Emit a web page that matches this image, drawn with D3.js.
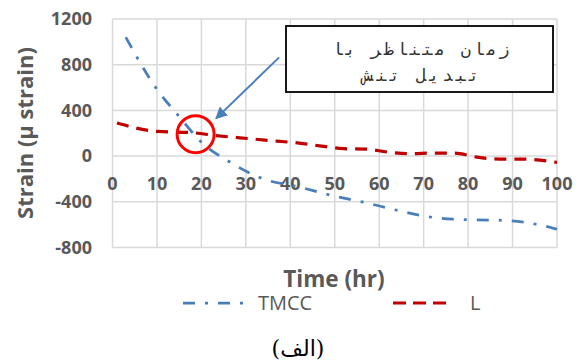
<!DOCTYPE html>
<html><head><meta charset="utf-8">
<script src="https://cdn.jsdelivr.net/npm/d3@7"></script>
<style>
html,body{margin:0;padding:0;background:#fff;}
svg{display:block;}
</style></head>
<body>
<svg id="chart" width="579" height="360"></svg>
<script>
// ---- data ----
const xTicks = [0,10,20,30,40,50,60,70,80,90,100];
const yTicks = [-800,-400,0,400,800,1200];
const tmccHours = [3, 9.8, 14.8, 20, 26.4, 33.8, 41.4, 49.3, 57, 64.8, 72.6, 80.4, 88.5, 96.6, 100];
const tmccStrain = [1040, 595, 356, 122, -52, -198, -265, -344, -408, -481, -539, -557, -563, -607, -640];
const lHours = [1, 10, 18, 23, 31, 37, 42, 47, 52, 57, 62, 67, 72, 77, 82, 87, 92, 100];
const lStrain = [289, 216, 205, 181, 152, 131, 114, 88, 65, 61, 35, 21, 26, 26, -9, -26, -26, -55];
const seriesNames = ["TMCC", "L"];
const xTitle = "Time (hr)";
const yTitle = "Strain (µ strain)";
const caption = "(الف)";
const noteLines = ["زمان متناظر با", "تبدیل تنش"];
const noteWidths = [177, 116];
const circleAt = [18.7, 192];
const arrowFrom = [37.5, 864], arrowTo = [23.3, 330];

const svg = d3.select("#chart");
const x = d3.scaleLinear().domain([0,100]).range([112.5,557]);
const y = d3.scaleLinear().domain([-800,1200]).range([247.5,19]);
const grid = "#d9d9d9", txt = "#595959";
const font = "'Open Sans', 'Liberation Sans', Arial, sans-serif";

// gridlines
svg.append("g").selectAll("line").data(yTicks).join("line")
  .attr("x1", x(0)).attr("x2", x(100)).attr("y1", d=>y(d)).attr("y2", d=>y(d))
  .attr("stroke", grid).attr("stroke-width", 1.5);
svg.append("g").selectAll("line").data(xTicks).join("line")
  .attr("x1", d=>x(d)).attr("x2", d=>x(d)).attr("y1", y(1200)).attr("y2", y(-800))
  .attr("stroke", grid).attr("stroke-width", 1.5);

// y tick labels
svg.append("g").selectAll("text").data(yTicks).join("text")
  .attr("x", 92).attr("y", d=>y(d)).attr("dy", "0.35em")
  .attr("text-anchor", "end").attr("font-family", font).attr("font-weight", "bold")
  .attr("font-size", 18).attr("fill", txt).text(d=>d);
// x tick labels (next to the zero line)
svg.append("g").selectAll("text").data(xTicks).join("text")
  .attr("x", d=>x(d)).attr("y", y(0)+28).attr("dy", "0.35em")
  .attr("text-anchor", "middle").attr("font-family", font).attr("font-weight", "bold")
  .attr("font-size", 18).attr("fill", txt).text(d=>d);

// series
const line = d3.line().x(d=>x(d[0])).y(d=>y(d[1])).curve(d3.curveMonotoneX);
const tmcc = tmccHours.map((h,i)=>[h, tmccStrain[i]]);
const lser = lHours.map((h,i)=>[h, lStrain[i]]);
const blue = "#4a7ebb", red = "#c00000";
svg.append("path").attr("d", line(lser)).attr("fill","none")
  .attr("stroke", red).attr("stroke-width", 3.2).attr("stroke-dasharray", "12,8");
svg.append("path").attr("d", line(tmcc)).attr("fill","none")
  .attr("stroke", blue).attr("stroke-width", 2.75).attr("stroke-dasharray", "12,10,3,10");

// axis titles
svg.append("text").attr("x", 334).attr("y", 287).attr("text-anchor","middle")
  .attr("font-family", font).attr("font-weight","bold").attr("font-size", 22.5)
  .attr("fill", txt).text(xTitle);
svg.append("text").attr("transform", "translate(33,133) rotate(-90)").attr("text-anchor","middle")
  .attr("font-family", font).attr("font-weight","bold").attr("font-size", 22)
  .attr("fill", txt).text(yTitle);

// legend
const lg = svg.append("g");
lg.append("line").attr("x1",183).attr("x2",244).attr("y1",303).attr("y2",303)
  .attr("stroke", blue).attr("stroke-width", 2.75).attr("stroke-dasharray", "12,10,3,10");
lg.append("text").attr("x",258).attr("y",303).attr("dy","0.35em").attr("font-family",font)
  .attr("font-size",20).attr("fill",txt).text(seriesNames[0]);
lg.append("line").attr("x1",393).attr("x2",451).attr("y1",303).attr("y2",303)
  .attr("stroke", red).attr("stroke-width", 3.2).attr("stroke-dasharray", "13,7");
lg.append("text").attr("x",470).attr("y",303).attr("dy","0.35em").attr("font-family",font)
  .attr("font-size",20).attr("fill",txt).text(seriesNames[1]);

// caption
svg.append("text").attr("x", 298).attr("y", 356).attr("text-anchor","middle")
  .attr("font-family", "'DejaVu Serif','DejaVu Sans', serif").attr("font-size", 22)
  .attr("fill", "#000").text(caption);

// annotation box
svg.append("rect").attr("x", 286).attr("y", 26).attr("width", 267).attr("height", 66)
  .attr("fill", "#fff").attr("stroke", "#000").attr("stroke-width", 1.8);
noteLines.forEach((t,i)=>{
  svg.append("text").attr("x", 421).attr("y", 49 + i*26).attr("dy","0.35em")
    .attr("text-anchor","middle").attr("direction","rtl")
    .attr("font-family","'DejaVu Sans Mono', monospace").attr("font-size", 17)
    .attr("textLength", noteWidths[i]).attr("lengthAdjust","spacing")
    .attr("fill", "#333").text(t);
});

// arrow
const defs = svg.append("defs");
defs.append("marker").attr("id","ah").attr("viewBox","0 0 10 10").attr("refX",9).attr("refY",5)
  .attr("markerWidth",6).attr("markerHeight",6).attr("orient","auto-start-reverse")
  .attr("markerUnits","strokeWidth")
  .append("path").attr("d","M0,0 L10,5 L0,10 z").attr("fill", blue);
svg.append("line").attr("x1", x(arrowFrom[0])).attr("y1", y(arrowFrom[1]))
  .attr("x2", x(arrowTo[0])).attr("y2", y(arrowTo[1]))
  .attr("stroke", blue).attr("stroke-width", 2).attr("marker-end","url(#ah)");

// circle
svg.append("circle").attr("cx", x(circleAt[0])).attr("cy", y(circleAt[1])).attr("r", 18.5)
  .attr("fill","none").attr("stroke","#ff0000").attr("stroke-width", 3);
</script>
</body></html>
